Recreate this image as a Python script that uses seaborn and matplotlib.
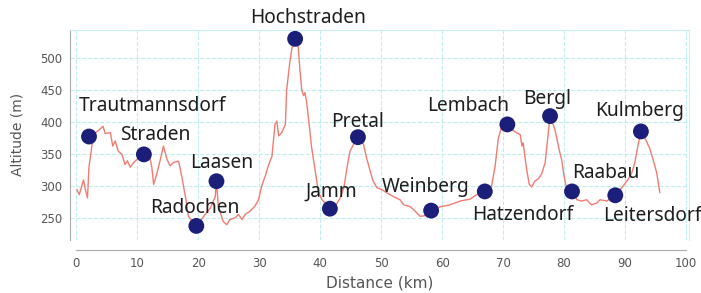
import matplotlib
matplotlib.use("Agg")
import matplotlib.pyplot as plt
import seaborn as sns
import pandas as pd

# elevation profile
dist_km = [0.1, 0.5, 1.2, 1.5, 1.85, 2.1, 2.5, 2.8, 3.6, 4.4, 4.75, 5.6, 6.0, 6.4, 6.9, 7.5,
           8.0, 8.4, 8.85, 9.4, 9.95, 10.5, 11.1, 11.85, 12.4, 12.7, 13.2, 13.8, 14.3, 14.9,
           15.4, 15.9, 16.5, 16.8, 17.3, 18.0, 18.4, 19.2, 19.7, 20.3, 20.9, 22.0, 22.8, 23.0,
           23.3, 24.1, 24.7, 25.2, 26.1, 26.6, 27.2, 27.7, 28.5, 29.3, 29.9, 30.4, 31.0, 31.5,
           32.1, 32.6, 32.9, 33.2, 33.7, 34.3, 34.5, 35.0, 35.4, 35.9, 36.4, 36.7, 37.0, 37.3,
           37.5, 37.8, 38.2, 38.6, 39.2, 39.7, 40.3, 41.1, 41.6, 42.5, 43.3, 43.9, 44.4, 44.9,
           45.5, 46.2, 47.1, 47.6, 48.2, 48.7, 49.3, 50.1, 50.9, 52.0, 53.1, 53.7, 54.8, 55.6,
           56.4, 57.2, 58.2, 59.7, 61.3, 63.0, 64.6, 65.7, 67.0, 68.1, 68.7, 69.2, 69.8, 70.7,
           71.4, 72.2, 72.8, 73.1, 73.3, 73.6, 73.9, 74.3, 74.7, 75.2, 75.8, 76.3, 76.9, 77.3,
           77.7, 78.5, 78.9, 79.3, 79.6, 80.0, 80.4, 81.3, 82.1, 82.9, 83.7, 84.5, 85.4, 85.9,
           87.0, 88.4, 89.5, 90.5, 91.1, 91.6, 92.2, 92.6, 93.5, 94.1, 94.6, 95.2, 95.7]
alt_m = [294, 286, 309, 294, 281, 330, 357, 380, 386, 393, 382, 383, 362, 370, 354, 349,
         333, 339, 329, 336, 341, 346, 349, 354, 329, 302, 318, 341, 362, 341,
         331, 336, 338, 338, 315, 278, 252, 242, 237, 244, 252, 265, 283, 307,
         268, 244, 239, 247, 250, 255, 247, 255, 260, 268, 278, 299, 315, 331,
         346, 396, 401, 378, 383, 396, 449, 491, 517, 530, 517, 480, 449, 441,
         446, 430, 396, 360, 323, 291, 278, 270, 264, 268, 281, 297, 328, 354,
         365, 376, 365, 344, 323, 307, 297, 294, 289, 283, 278, 270, 267, 260,
         252, 253, 261, 267, 270, 276, 279, 286, 291, 299, 331, 373, 394, 396,
         388, 383, 380, 362, 367, 344, 323, 302, 298, 307, 311, 318, 336, 373,
         409, 388, 370, 352, 341, 315, 297, 291, 278, 276, 278, 270, 273, 278,
         276, 285, 297, 310, 320, 336, 367, 385, 370, 357, 341, 320, 289]

# named places
places = ["Trautmannsdorf", "Straden", "Radochen", "Laasen", "Hochstraden", "Jamm", "Pretal",
          "Weinberg", "Hatzendorf", "Lembach", "Bergl", "Raabau", "Leitersdorf", "Kulmberg"]
place_km = [2.1, 11.1, 19.7, 23.0, 35.9, 41.6, 46.2, 58.2, 67.0, 70.7, 77.7, 81.3, 88.4, 92.6]
place_alt = [377, 349, 237, 307, 530, 264, 376, 261, 291, 396, 409, 291, 285, 385]
# label offsets in points (dx, dy)
label_dx = [46, 8, -1, 4, 9, 1, 0, -4, 27, -28, -2, 24, 27, -1]
label_dy = [22, 14, 13, 13, 15, 12, 11, 17, -17, 13, 12, 13, -15, 15]

profile = pd.DataFrame({"km": dist_km, "alt": alt_m})
spots = pd.DataFrame({"km": place_km, "alt": place_alt, "name": places})

sns.set_style("white")
plt.rcParams["font.family"] = ["DejaVu Sans"]

fig = plt.figure(figsize=(7.01, 2.93), dpi=100)
ax = fig.add_axes([0.1, 0.181, 0.883, 0.717])

sns.lineplot(data=profile, x="km", y="alt", ax=ax, color="#f27b72", lw=1.0, zorder=2)
sns.scatterplot(data=spots, x="km", y="alt", ax=ax, color="#1b1f7a", s=130,
                edgecolor="none", zorder=3)

for name, x, y, dx, dy in zip(places, place_km, place_alt, label_dx, label_dy):
    ax.annotate(name, (x, y), xytext=(dx, dy), textcoords="offset points",
                ha="center", va="center", fontsize=13.8, color="#1e1e1e",
                family="Noto Sans", annotation_clip=False)

ax.set_xlim(-1, 100.5)
ax.set_ylim(215, 544)
ax.set_xticks(range(0, 101, 10))
ax.set_yticks(range(250, 501, 50))
ax.grid(True, color="#bfeeee", ls="--", lw=0.8)
ax.tick_params(labelsize=8.5, colors="#555555", length=2)
ax.set_xlabel("Distance (km)", fontsize=11, color="#555555")
ax.set_ylabel("Altitude (m)", fontsize=10, color="#555555", labelpad=11)

for side in ["top", "right"]:
    ax.spines[side].set_color("#c8eeee")
    ax.spines[side].set_linewidth(0.8)
ax.spines["left"].set_color("#aaaaaa")
ax.spines["bottom"].set_color("#aaaaaa")
ax.spines["bottom"].set_position(("outward", 7))
ax.spines["bottom"].set_bounds(0, 100)

fig.savefig("out.png", dpi=100)
